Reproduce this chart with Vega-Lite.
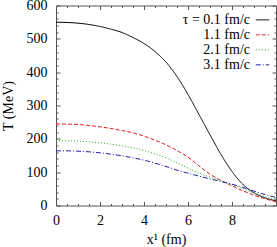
{
  "$schema": "https://vega.github.io/schema/vega-lite/v6.json",
  "width": 220,
  "height": 200,
  "autosize": {"type": "none"},
  "padding": {"left": 56, "top": 5.5, "right": 1, "bottom": 41.5},
  "config": {
    "font": "Liberation Serif",
    "view": {"stroke": null},
    "axis": {
      "grid": false,
      "domainColor": "#555555",
      "tickColor": "#555555",
      "labelColor": "#000000",
      "titleColor": "#000000",
      "labelFontSize": 14,
      "titleFontSize": 14,
      "labelFontWeight": "normal",
      "titleFontWeight": "normal",
      "labelFlush": false,
      "labelOverlap": false
    }
  },
  "data": {
    "values": [
      {"x": 0, "T": 550, "tau": "τ = 0.1 fm/c"},
      {"x": 0.5, "T": 549, "tau": "τ = 0.1 fm/c"},
      {"x": 1, "T": 547, "tau": "τ = 0.1 fm/c"},
      {"x": 1.5, "T": 543, "tau": "τ = 0.1 fm/c"},
      {"x": 2, "T": 537, "tau": "τ = 0.1 fm/c"},
      {"x": 2.5, "T": 529, "tau": "τ = 0.1 fm/c"},
      {"x": 3, "T": 519, "tau": "τ = 0.1 fm/c"},
      {"x": 3.5, "T": 504, "tau": "τ = 0.1 fm/c"},
      {"x": 4, "T": 486, "tau": "τ = 0.1 fm/c"},
      {"x": 4.5, "T": 462, "tau": "τ = 0.1 fm/c"},
      {"x": 5, "T": 430, "tau": "τ = 0.1 fm/c"},
      {"x": 5.5, "T": 387, "tau": "τ = 0.1 fm/c"},
      {"x": 6, "T": 333, "tau": "τ = 0.1 fm/c"},
      {"x": 6.5, "T": 273, "tau": "τ = 0.1 fm/c"},
      {"x": 7, "T": 212, "tau": "τ = 0.1 fm/c"},
      {"x": 7.5, "T": 153, "tau": "τ = 0.1 fm/c"},
      {"x": 8, "T": 102, "tau": "τ = 0.1 fm/c"},
      {"x": 8.5, "T": 63, "tau": "τ = 0.1 fm/c"},
      {"x": 9, "T": 38, "tau": "τ = 0.1 fm/c"},
      {"x": 9.5, "T": 23, "tau": "τ = 0.1 fm/c"},
      {"x": 10, "T": 14, "tau": "τ = 0.1 fm/c"},
      {"x": 0, "T": 245, "tau": "1.1 fm/c"},
      {"x": 0.5, "T": 244, "tau": "1.1 fm/c"},
      {"x": 1, "T": 243, "tau": "1.1 fm/c"},
      {"x": 1.5, "T": 240, "tau": "1.1 fm/c"},
      {"x": 2, "T": 236, "tau": "1.1 fm/c"},
      {"x": 2.5, "T": 231, "tau": "1.1 fm/c"},
      {"x": 3, "T": 225, "tau": "1.1 fm/c"},
      {"x": 3.5, "T": 218, "tau": "1.1 fm/c"},
      {"x": 4, "T": 208, "tau": "1.1 fm/c"},
      {"x": 4.5, "T": 196, "tau": "1.1 fm/c"},
      {"x": 5, "T": 182, "tau": "1.1 fm/c"},
      {"x": 5.5, "T": 165, "tau": "1.1 fm/c"},
      {"x": 6, "T": 145, "tau": "1.1 fm/c"},
      {"x": 6.5, "T": 119, "tau": "1.1 fm/c"},
      {"x": 7, "T": 94, "tau": "1.1 fm/c"},
      {"x": 7.5, "T": 75, "tau": "1.1 fm/c"},
      {"x": 8, "T": 59, "tau": "1.1 fm/c"},
      {"x": 8.5, "T": 44, "tau": "1.1 fm/c"},
      {"x": 9, "T": 31, "tau": "1.1 fm/c"},
      {"x": 9.5, "T": 20, "tau": "1.1 fm/c"},
      {"x": 10, "T": 11, "tau": "1.1 fm/c"},
      {"x": 0, "T": 195, "tau": "2.1 fm/c"},
      {"x": 0.5, "T": 194, "tau": "2.1 fm/c"},
      {"x": 1, "T": 193, "tau": "2.1 fm/c"},
      {"x": 1.5, "T": 191, "tau": "2.1 fm/c"},
      {"x": 2, "T": 188, "tau": "2.1 fm/c"},
      {"x": 2.5, "T": 184, "tau": "2.1 fm/c"},
      {"x": 3, "T": 179, "tau": "2.1 fm/c"},
      {"x": 3.5, "T": 173, "tau": "2.1 fm/c"},
      {"x": 4, "T": 165, "tau": "2.1 fm/c"},
      {"x": 4.5, "T": 155, "tau": "2.1 fm/c"},
      {"x": 5, "T": 143, "tau": "2.1 fm/c"},
      {"x": 5.5, "T": 128, "tau": "2.1 fm/c"},
      {"x": 6, "T": 112, "tau": "2.1 fm/c"},
      {"x": 6.5, "T": 97, "tau": "2.1 fm/c"},
      {"x": 7, "T": 85, "tau": "2.1 fm/c"},
      {"x": 7.5, "T": 74, "tau": "2.1 fm/c"},
      {"x": 8, "T": 63, "tau": "2.1 fm/c"},
      {"x": 8.5, "T": 50, "tau": "2.1 fm/c"},
      {"x": 9, "T": 38, "tau": "2.1 fm/c"},
      {"x": 9.5, "T": 27, "tau": "2.1 fm/c"},
      {"x": 10, "T": 16, "tau": "2.1 fm/c"},
      {"x": 0, "T": 164, "tau": "3.1 fm/c"},
      {"x": 0.5, "T": 164, "tau": "3.1 fm/c"},
      {"x": 1, "T": 163, "tau": "3.1 fm/c"},
      {"x": 1.5, "T": 161, "tau": "3.1 fm/c"},
      {"x": 2, "T": 158, "tau": "3.1 fm/c"},
      {"x": 2.5, "T": 154, "tau": "3.1 fm/c"},
      {"x": 3, "T": 149, "tau": "3.1 fm/c"},
      {"x": 3.5, "T": 143, "tau": "3.1 fm/c"},
      {"x": 4, "T": 136, "tau": "3.1 fm/c"},
      {"x": 4.5, "T": 127, "tau": "3.1 fm/c"},
      {"x": 5, "T": 117, "tau": "3.1 fm/c"},
      {"x": 5.5, "T": 106, "tau": "3.1 fm/c"},
      {"x": 6, "T": 97, "tau": "3.1 fm/c"},
      {"x": 6.5, "T": 88, "tau": "3.1 fm/c"},
      {"x": 7, "T": 80, "tau": "3.1 fm/c"},
      {"x": 7.5, "T": 72, "tau": "3.1 fm/c"},
      {"x": 8, "T": 64, "tau": "3.1 fm/c"},
      {"x": 8.5, "T": 54, "tau": "3.1 fm/c"},
      {"x": 9, "T": 43, "tau": "3.1 fm/c"},
      {"x": 9.5, "T": 33, "tau": "3.1 fm/c"},
      {"x": 10, "T": 24, "tau": "3.1 fm/c"}
    ]
  },
  "layer": [
    {
      "mark": {"type": "line", "strokeWidth": 1, "interpolate": "monotone"},
      "encoding": {
        "x": {
          "field": "x", "type": "quantitative",
          "scale": {"domain": [0, 10], "nice": false},
          "axis": {
            "orient": "bottom",
            "values": [0,0.5,1,1.5,2,2.5,3,3.5,4,4.5,5,5.5,6,6.5,7,7.5,8,8.5,9,9.5,10],
            "labelExpr": "datum.value % 2 === 0 && datum.value < 10 ? format(datum.value, 'd') : ''",
            "tickSize": {"condition": {"test": "datum.value % 2 === 0", "value": -4}, "value": -2},
            "labelPadding": 12,
            "title": "x¹ (fm)",
            "titlePadding": 3
          }
        },
        "y": {
          "field": "T", "type": "quantitative",
          "scale": {"domain": [0, 600], "nice": false},
          "axis": {
            "orient": "left",
            "values": [0,20,40,60,80,100,120,140,160,180,200,220,240,260,280,300,320,340,360,380,400,420,440,460,480,500,520,540,560,580,600],
            "labelExpr": "datum.value % 100 === 0 ? format(datum.value, 'd') : ''",
            "tickSize": {"condition": {"test": "datum.value % 100 === 0", "value": -4}, "value": -2},
            "labelPadding": 13,
            "title": "T (MeV)",
            "titlePadding": 11
          }
        },
        "color": {
          "field": "tau", "type": "nominal",
          "scale": {"domain": ["τ = 0.1 fm/c", "1.1 fm/c", "2.1 fm/c", "3.1 fm/c"], "range": ["#000000", "#dd2222", "#22aa22", "#2222aa"]},
          "legend": {
            "orient": "none", "legendX": 199, "legendY": 9, "title": null,
            "labelAlign": "right", "labelOffset": -20, "labelFontSize": 14,
            "symbolType": "stroke", "symbolSize": 180, "symbolStrokeWidth": 1,
            "clipHeight": 10.7, "rowPadding": 0, "padding": 0,
            "encode": {"entries": {"update": {"width": {"value": 40}}}}
          }
        },
        "strokeDash": {
          "field": "tau", "type": "nominal",
          "scale": {"domain": ["τ = 0.1 fm/c", "1.1 fm/c", "2.1 fm/c", "3.1 fm/c"], "range": [[1, 0], [4, 2], [1, 2], [5, 2, 1, 2]]},
          "legend": {
            "orient": "none", "legendX": 199, "legendY": 9, "title": null,
            "labelAlign": "right", "labelOffset": -20, "labelFontSize": 14,
            "symbolType": "stroke", "symbolSize": 180, "symbolStrokeWidth": 1,
            "clipHeight": 10.7, "rowPadding": 0, "padding": 0,
            "encode": {"entries": {"update": {"width": {"value": 40}}}}
          }
        }
      }
    },
    {
      "mark": {"type": "line", "opacity": 0},
      "encoding": {
        "detail": {"field": "tau", "type": "nominal"},
        "x": {
          "field": "x", "type": "quantitative",
          "scale": {"domain": [0, 10], "nice": false},
          "axis": {
            "orient": "top",
            "values": [0,0.5,1,1.5,2,2.5,3,3.5,4,4.5,5,5.5,6,6.5,7,7.5,8,8.5,9,9.5,10],
            "labels": false,
            "tickSize": {"condition": {"test": "datum.value % 2 === 0", "value": -4}, "value": -2},
            "title": null
          }
        },
        "y": {
          "field": "T", "type": "quantitative",
          "scale": {"domain": [0, 600], "nice": false},
          "axis": {
            "orient": "right",
            "values": [0,20,40,60,80,100,120,140,160,180,200,220,240,260,280,300,320,340,360,380,400,420,440,460,480,500,520,540,560,580,600],
            "labels": false,
            "tickSize": {"condition": {"test": "datum.value % 100 === 0", "value": -4}, "value": -2},
            "title": null
          }
        }
      }
    }
  ],
  "resolve": {"axis": {"x": "independent", "y": "independent"}}
}
